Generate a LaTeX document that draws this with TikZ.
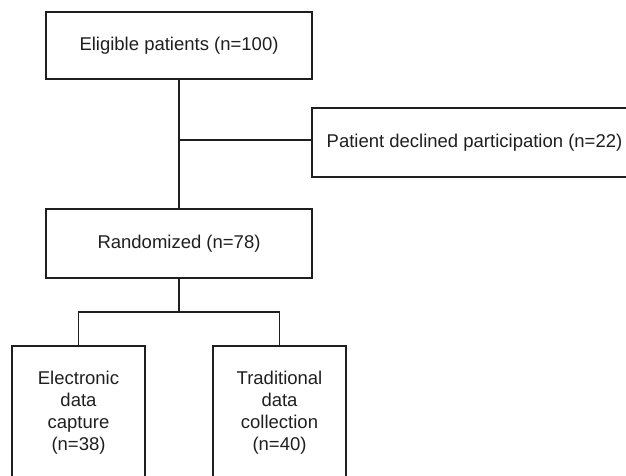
\documentclass[tikz,border=0pt]{standalone}
\usepackage{fontspec}
\setmainfont{Liberation Sans}
\begin{document}
\begin{tikzpicture}[x=1pt,y=-1pt,
  flowbox/.style={draw=black!88, line width=1.8pt, align=center, inner sep=0pt,
    text=black!88, font=\fontsize{18.5}{22}\selectfont},
  link/.style={draw=black!88, line width=1.8pt}]
\useasboundingbox (0,0) rectangle (626,476);
\clip (0,0) rectangle (626,476);
\node[flowbox, minimum width=266pt, minimum height=67pt] (elig) at (179,45.5) {Eligible patients (n=100)};
\node[flowbox, minimum width=325pt, minimum height=69pt] (decl) at (474.5,142.5) {Patient declined participation (n=22)};
\node[flowbox, minimum width=266pt, minimum height=69pt] (rand) at (179,243.5) {Randomized (n=78)};
\node[flowbox, minimum width=133pt, minimum height=134pt] (elec) at (78.5,413) {Electronic\\data\\capture\\(n=38)};
\node[flowbox, minimum width=133pt, minimum height=134pt] (trad) at (279.5,413) {Traditional\\data\\collection\\(n=40)};
\coordinate (j1) at (179,140);
\coordinate (split) at (179,312);
\draw[link] (elig.south) -- (rand.north);
\draw[link] (j1) -- (j1 -| decl.west);
\draw[link] (rand.south) -- (split);
\draw[link] (elec.north) |- (split) -| (trad.north);
\end{tikzpicture}
\end{document}
